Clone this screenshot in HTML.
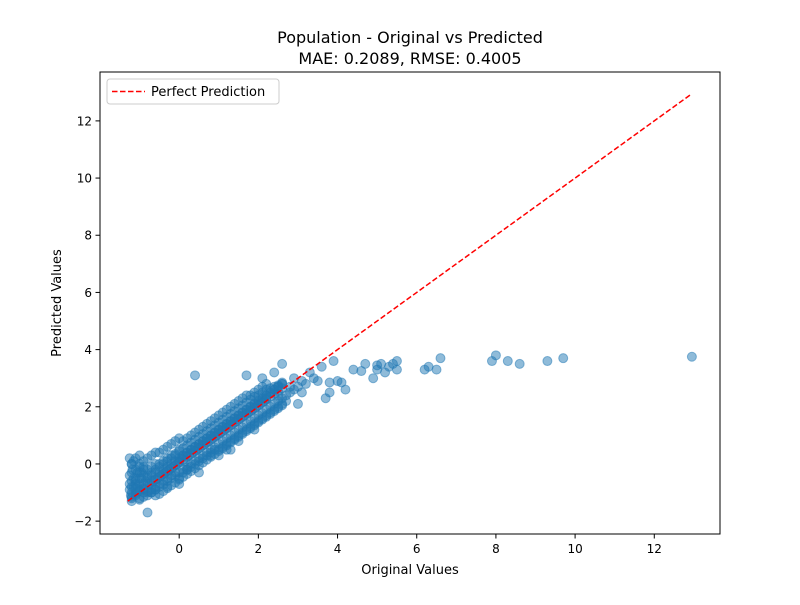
<!DOCTYPE html>
<html><head><meta charset="utf-8"><style>
body{margin:0;background:#fff;font-family:"Liberation Sans","DejaVu Sans",sans-serif}
svg text{font-family:"DejaVu Sans","Liberation Sans",sans-serif}
</style></head><body>
<svg id="c" width="800" height="600" xmlns="http://www.w3.org/2000/svg">
<rect width="800" height="600" fill="#fff"/>
<text x="410" y="43" font-size="16" text-anchor="middle">Population - Original vs Predicted</text>
<text x="410" y="64" font-size="16" text-anchor="middle">MAE: 0.2089, RMSE: 0.4005</text>
<g id="pts"></g>
<g id="line"></g>
<rect x="100" y="72" width="620" height="462" fill="none" stroke="#000" stroke-width="1"/>
<g id="ax"></g>
<text x="410" y="574" font-size="13" text-anchor="middle">Original Values</text>
<text x="61" y="303" font-size="13" text-anchor="middle" transform="rotate(-90 61 303)">Predicted Values</text>
<g>
<rect x="107" y="79" width="172" height="25" rx="3" fill="#fff" fill-opacity="0.8" stroke="#ccc"/>
<line x1="112" y1="91.5" x2="145" y2="91.5" stroke="red" stroke-width="1.5" stroke-dasharray="5.5,2.5"/>
<text x="151" y="96" font-size="13">Perfect Prediction</text>
</g>
</svg>
<script>
const xTicks=[0,2,4,6,8,10,12];
const yTicks=[-2,0,2,4,6,8,10,12];
const lineEnds=[-1.3,12.95];
const outX=[5.0,5.1,5.2,5.3,5.5,5.5,4.9,4.7,4.4,4.2,4.0,3.9,3.8,3.7,6.2,6.3,6.5,6.6,7.9,8.0,8.3,8.6,9.3,9.7,12.95,0.4,1.7,2.6,3.3,3.5,3.0,2.4,2.1,2.7,3.8,4.1,5.4,3.6,3.4,3.2,2.9,2.5,2.8,3.1,2.2,5.0,4.6];
const outY=[3.3,3.5,3.2,3.4,3.6,3.3,3.0,3.5,3.3,2.6,2.9,3.6,2.5,2.3,3.3,3.4,3.3,3.7,3.6,3.8,3.6,3.5,3.6,3.7,3.75,3.1,3.1,3.5,3.2,2.9,2.1,3.2,3.0,2.2,2.85,2.85,3.5,3.4,3.0,2.8,3.0,2.4,2.7,2.5,2.4,3.45,3.25];
const bandX=[-1.25,-1.25,-1.25,-1.22,-1.2,-1.2,-1.2,-1.18,-1.15,-1.15,-1.1,-1.1,-1.1,-1.05,-1.0,-1.0,-1.0,-1.0,-0.95,-0.9,-0.9,-0.9,-0.85,-0.8,-0.8,-0.8,-0.75,-0.7,-0.7,-0.7,-0.65,-0.6,-0.6,-0.6,-0.55,-0.5,-0.5,-0.5,-0.45,-0.4,-0.4,-0.4,-0.35,-0.3,-0.3,-0.3,-0.25,-0.2,-0.2,-0.2,-0.15,-0.1,-0.1,-0.1,-0.05,0,0,0,0,0.05,0.1,0.1,0.1,0.15,0.2,0.2,0.2,0.25,0.3,0.3,0.3,0.35,0.4,0.4,0.4,0.45,0.5,0.5,0.5,0.55,0.6,0.6,0.6,0.65,0.7,0.7,0.7,0.75,0.8,0.8,0.8,0.85,0.9,0.9,0.9,0.95,1.0,1.0,1.0,1.05,1.1,1.1,1.1,1.15,1.2,1.2,1.2,1.25,1.3,1.3,1.3,1.35,1.4,1.4,1.4,1.45,1.5,1.5,1.5,1.55,1.6,1.6,1.6,1.65,1.7,1.7,1.7,1.75,1.8,1.8,1.8,1.85,1.9,1.9,1.9,1.95,2.0,2.0,2.0,2.05,2.1,2.1,2.1,2.15,2.2,2.2,2.2,2.3,2.3,2.4,2.4,2.5,2.5,2.6,2.6,2.7,2.8,2.9,3.0,3.1,-1.25,-1.2,-1.1,-1.0,-0.9,-1.15,-1.05,-0.95,-0.3,0.2,0.8,1.3,1.9,-0.6,0.5,1.0,1.5,0.0,-0.8,1.2];
const bandY=[-0.4,0.2,-0.9,-1.1,-0.6,0.0,-1.3,-0.2,-0.8,0.1,-0.5,-1.0,0.2,-0.3,-0.7,-0.1,-1.2,0.3,-0.5,-0.9,-0.2,0.1,-0.6,-1.0,-0.4,0.2,-0.7,-0.9,-0.3,0.3,-0.6,-0.8,-0.2,0.4,-0.5,-0.7,-0.1,0.4,-0.4,-0.6,0.0,0.5,-0.3,-0.5,0.1,0.6,-0.2,-0.4,0.2,0.7,-0.1,-0.3,0.3,0.8,0.0,-0.5,0.1,0.5,0.9,0.2,-0.3,0.3,0.8,0.1,-0.2,0.4,0.9,0.3,-0.1,0.5,1.0,0.4,0.0,0.6,1.1,0.5,0.1,0.7,1.2,0.6,0.2,0.8,1.3,0.7,0.3,0.9,1.4,0.8,0.4,1.0,1.5,0.9,0.5,1.1,1.6,1.0,0.5,1.2,1.7,1.1,0.6,1.3,1.8,1.2,0.7,1.4,1.9,1.3,0.8,1.5,2.0,1.4,0.9,1.6,2.1,1.5,1.0,1.7,2.2,1.6,1.1,1.8,2.3,1.7,1.2,1.9,2.4,1.8,1.3,2.0,2.4,1.9,1.4,2.1,2.5,2.0,1.5,2.2,2.6,2.1,1.6,2.3,2.7,2.2,1.7,2.3,2.8,1.8,2.5,1.9,2.6,2.0,2.7,2.1,2.8,2.4,2.5,2.6,2.7,2.9,-0.7,-1.2,-1.1,-0.9,-1.0,-0.5,-0.8,-0.3,-0.8,-0.2,0.3,0.5,1.2,-0.9,-0.3,0.3,0.8,-0.7,-1.7,0.5];
const fillX=[-1.2,-1.1,-1.0,-0.9,-0.8,-0.7,-0.6,-0.5,-0.4,-0.3,-0.2,-0.1,0,0.1,0.2,0.3,0.4,0.5,0.6,0.7,0.8,0.9,1.0,1.1,1.2,1.3,1.4,1.5,1.6,1.7,1.8,1.9,2.0,2.1,2.2,2.3,2.4,2.5,2.6];
const fillYA=[-1.0,-1.05,-1.25,-1.15,-1.1,-1.0,-0.9,-0.8,-0.72,-0.6,-0.5,-0.42,-0.3,-0.2,-0.12,0.0,0.1,0.2,0.28,0.4,0.5,0.58,0.7,0.8,0.9,1.0,1.1,1.2,1.28,1.4,1.5,1.6,1.7,1.78,1.9,2.0,2.1,2.2,2.3];
const fillYB=[-0.3,-0.6,-0.3,-0.7,-0.5,-0.4,-0.3,-0.3,-0.2,-0.1,0.0,0.1,0.2,0.3,0.4,0.5,0.6,0.7,0.8,0.9,1.0,1.1,1.2,1.3,1.4,1.5,1.6,1.7,1.8,1.9,2.0,2.1,2.2,2.3,2.4,2.5,2.6,2.7,2.8];
const fillYC=[-0.8,-0.7,-0.5,-0.4,-0.7,-0.6,-0.55,-0.45,-0.35,-0.25,-0.15,-0.05,0.05,0.15,0.25,0.35,0.45,0.55,0.65,0.75,0.85,0.95,1.05,1.15,1.25,1.35,1.45,1.55,1.65,1.75,1.85,1.95,2.05,2.15,2.25,2.35,2.45,2.55,2.65];
const fillYD=[0.0,-0.2,0.0,-0.1,-0.2,-0.1,0.0,0.0,0.1,0.2,0.3,0.35,0.45,0.55,0.65,0.75,0.85,0.95,1.05,1.15,1.25,1.35,1.45,1.55,1.65,1.75,1.85,1.95,2.05,2.15,2.25,2.35,2.4,2.5,2.6,2.65,2.7,2.75,2.85];
const fillYE=[-1.15,-0.85,-0.95,-0.85,-0.95,-1.0,-1.1,-1.05,-0.95,-0.85,-0.75,-0.65,-0.55,-0.45,-0.35,-0.25,-0.15,-0.05,0.05,0.15,0.25,0.35,0.45,0.55,0.65,0.75,0.85,0.95,1.05,1.15,1.25,1.35,1.45,1.55,1.65,1.75,1.85,1.95,2.05];
const X0=100,X1=720,xmin=-2.0,xmax=13.66,Y0=534,Y1=72,ymin=-2.45,ymax=13.71;
const sx=v=>X0+(v-xmin)/(xmax-xmin)*(X1-X0);
const sy=v=>Y0-(v-ymin)/(ymax-ymin)*(Y0-Y1);
const NS="http://www.w3.org/2000/svg";
const mk=(t,a,p)=>{const e=document.createElementNS(NS,t);for(const k in a)e.setAttribute(k,a[k]);p.appendChild(e);return e;};
const pts=document.getElementById('pts');
function dot(x,y){const c=mk('circle',{cx:sx(x),cy:sy(y),r:4.5,fill:'#1f77b4','fill-opacity':0.5,stroke:'#1f77b4','stroke-opacity':0.5},pts);

}
bandX.forEach((x,i)=>dot(x,bandY[i]));
[fillYA,fillYB,fillYC,fillYD,fillYE].forEach(ys=>fillX.forEach((x,i)=>dot(x,ys[i])));
outX.forEach((x,i)=>dot(x,outY[i]));
const lg=document.getElementById('line');
const ln=mk('line',{x1:sx(lineEnds[0]),y1:sy(lineEnds[0]),x2:sx(lineEnds[1]),y2:sy(lineEnds[1]),stroke:'red','stroke-width':1.5,'stroke-dasharray':'5.5,2.5'},lg);


const ax=document.getElementById('ax');
xTicks.forEach(v=>{mk('line',{x1:sx(v),x2:sx(v),y1:534,y2:538.5,stroke:'#000'},ax);
const t=mk('text',{x:sx(v),y:553,'font-size':12,'text-anchor':'middle'},ax);t.textContent=v;

});
yTicks.forEach(v=>{mk('line',{x1:95.5,x2:100,y1:sy(v),y2:sy(v),stroke:'#000'},ax);
const t=mk('text',{x:92,y:sy(v)+4.5,'font-size':12,'text-anchor':'end'},ax);t.textContent=v<0?'\u2212'+(-v):v;

});
</script>
</body></html>
